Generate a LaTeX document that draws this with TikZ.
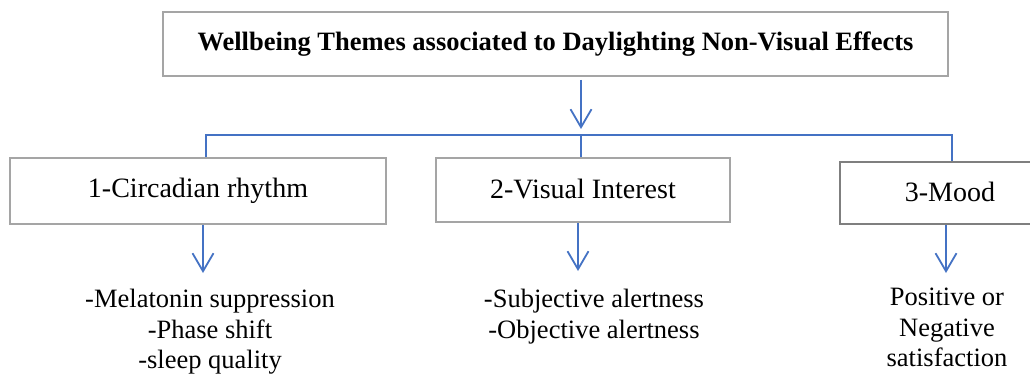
\documentclass[tikz,border=0pt]{standalone}
\usepackage{fontspec}
\setmainfont{Liberation Serif}
\usetikzlibrary{arrows.meta}
\definecolor{boxgray}{HTML}{A5A5A5}
\definecolor{darkgray}{HTML}{7F7F7F}
\definecolor{linkblue}{HTML}{4472C4}
\tikzset{
  themebox/.style={draw=boxgray, line width=1.6pt, inner sep=0pt, align=center},
  link/.style={draw=linkblue, line width=1.2pt},
  downarrow/.style={link, line width=1.8pt, -{Straight Barb[length=18pt,width=21pt,line width=1.8pt]}},
  listtext/.style={align=center, inner sep=0pt, font=\fontsize{26.5}{30.5}\selectfont},
}
\begin{document}
\begin{tikzpicture}[x=1pt,y=-1pt]
\clip (0,0) rectangle (1030,374);
\fill[white] (0,0) rectangle (1030,374);

% headline box
\node[themebox, minimum width=785pt, minimum height=64pt,
      font=\bfseries\fontsize{26.5}{30}\selectfont] (title) at (555.5,44) {\raisebox{3pt}{Wellbeing Themes associated to Daylighting Non-Visual Effects}};

% theme boxes
\node[themebox, minimum width=376pt, minimum height=66pt,
      font=\fontsize{28}{32}\selectfont] (circ) at (198,191) {1-Circadian rhythm};
\node[themebox, minimum width=294pt, minimum height=64pt,
      font=\fontsize{28}{32}\selectfont] (vis) at (583,190) {\raisebox{2pt}{2-Visual Interest}};
\node[themebox, draw=darkgray, minimum width=220pt, minimum height=62pt,
      font=\fontsize{28}{32}\selectfont, text width=220pt] (mood) at (950,193) {\raisebox{2pt}{3-Mood}};

% effect lists
\node[listtext, anchor=north] (circlist) at (210,289) {-Melatonin suppression\\-Phase shift\\-sleep quality};
\node[listtext, anchor=north] (vislist) at (594,289) {-Subjective alertness\\-Objective alertness};
\node[listtext, anchor=north] (moodlist) at (947,288) {Positive or\\Negative\\satisfaction};

% branching bus
\coordinate (top) at (581,129);
\coordinate (jl) at (206,135);
\coordinate (jm) at (581,135);
\coordinate (jr) at (952,135);
\draw[downarrow] (title.south -| top) ++(0,3) -- (top);
\draw[link] (circ.north -| jl) -- (jl) -- (jr) -- (mood.north -| jr);
\draw[link] (jm) -- (vis.north -| jm);

% arrows down to the lists
\coordinate (a1) at (203,273);
\coordinate (a2) at (578,271);
\coordinate (a3) at (946,273);
\draw[downarrow] (circ.south -| a1) -- (a1);
\draw[downarrow] (vis.south -| a2) -- (a2);
\draw[downarrow] (mood.south -| a3) -- (a3);
\end{tikzpicture}
\end{document}
